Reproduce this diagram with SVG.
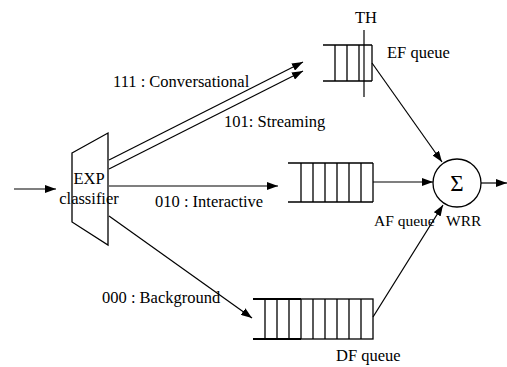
<svg xmlns="http://www.w3.org/2000/svg" width="507" height="367" viewBox="0 0 507 367">
  <defs>
    <marker id="arrow" viewBox="0 0 11 8" refX="11" refY="4" markerWidth="11" markerHeight="8" markerUnits="userSpaceOnUse" orient="auto">
      <path d="M0,0 L11,4 L0,8 Z" fill="#000"/>
    </marker>
  </defs>
  <style>
    text { font-family: "Liberation Serif", "Times New Roman", serif; font-size: 16.5px; fill: #000; }
    text.small { font-size: 15.5px; }
    text.sigma { font-size: 23px; }
    .ln { stroke: #000; stroke-width: 1.2; fill: none; }
    .arr { stroke: #000; stroke-width: 1.2; fill: none; marker-end: url(#arrow); }
    .q { stroke: #000; stroke-width: 1.3; fill: none; }
    .qb { stroke: #000; stroke-width: 1.8; fill: none; }
  </style>
  <rect width="507" height="367" fill="#fff"/>

  <!-- connectors -->
  <g id="connectors">
    <line class="arr" x1="14" y1="189" x2="56" y2="189"/>
    <line class="arr" x1="109" y1="160" x2="303" y2="62"/>
    <line class="arr" x1="109" y1="169" x2="303" y2="71"/>
    <line class="arr" x1="109" y1="186" x2="278" y2="186"/>
    <line class="arr" x1="109" y1="216" x2="252" y2="318"/>
    <line class="arr" x1="372" y1="63" x2="442" y2="162"/>
    <line class="arr" x1="373" y1="182" x2="433" y2="182"/>
    <line class="arr" x1="373" y1="317" x2="443" y2="205"/>
    <line class="arr" x1="481" y1="183" x2="507" y2="183"/>
  </g>

  <!-- classifier -->
  <g id="classifier">
    <polygon class="q" points="72,153 108,133 108,245 72,222"/>
    <text x="89" y="184" text-anchor="middle">EXP</text>
    <text x="89" y="204" text-anchor="middle">classifier</text>
  </g>

  <!-- flow labels -->
  <g id="labels">
    <text x="113" y="87">111 : Conversational</text>
    <text x="224" y="127">101: Streaming</text>
    <text x="155" y="207">010 : Interactive</text>
    <text x="102" y="303">000 : Background</text>
  </g>

  <!-- EF queue with threshold -->
  <g id="ef-queue">
    <path class="q" d="M323,45 H372 M323,81 H372 M335,45 V81 M347,45 V81 M359,45 V81 M372,45 V81"/>
    <line class="ln" x1="364" y1="30" x2="364" y2="97"/>
    <text x="366" y="23" text-anchor="middle">TH</text>
    <text x="387" y="58">EF queue</text>
  </g>

  <!-- AF queue -->
  <g id="af-queue">
    <path class="q" d="M288,163 H373 M288,202 H373 M301,163 V202 M313,163 V202 M325,163 V202 M337,163 V202 M349,163 V202 M361,163 V202 M373,163 V202"/>
    <text class="small" x="374" y="226">AF queue</text>
  </g>

  <!-- DF queue -->
  <g id="df-queue">
    <path class="qb" d="M253,299 H301 M253,339 H301"/>
    <rect class="q" x="301" y="299" width="72" height="40"/>
    <path class="q" d="M265,299 V339 M277,299 V339 M289,299 V339 M313,299 V339 M325,299 V339 M337,299 V339 M349,299 V339 M361,299 V339"/>
    <text x="336" y="361">DF queue</text>
  </g>

  <!-- weighted round robin scheduler -->
  <g id="wrr">
    <circle class="q" cx="457" cy="183" r="24"/>
    <text class="sigma" x="457" y="191" text-anchor="middle">Σ</text>
    <text class="small" x="446" y="226">WRR</text>
  </g>
</svg>
